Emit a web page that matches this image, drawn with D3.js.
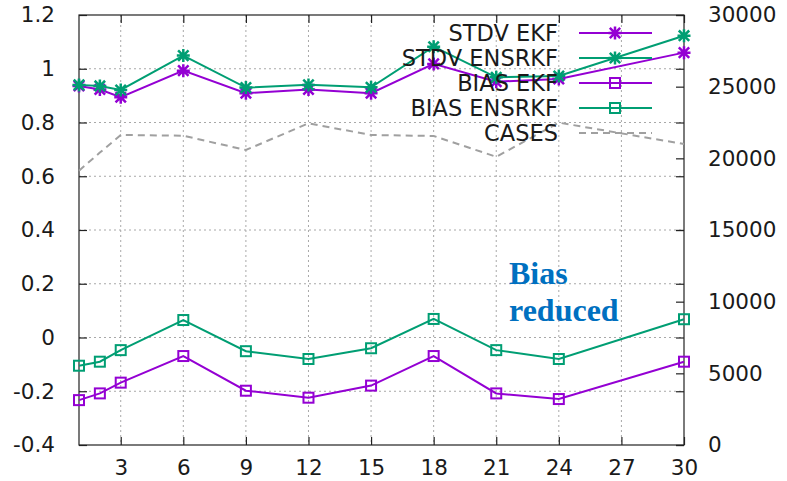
<!DOCTYPE html>
<html>
<head>
<meta charset="utf-8">
<script src="https://cdn.jsdelivr.net/npm/d3@7"></script>
<style>
  html, body { margin: 0; padding: 0; background: #fff; }
  svg { display: block; }
  text { font-family: "DejaVu Sans", sans-serif; fill: #1a1a1a; }
  text.note { font-family: "Liberation Serif", "Times New Roman", serif; font-weight: bold; fill: #0070c0; }
</style>
</head>
<body>
<svg id="chart" width="787" height="481"></svg>
<script>
// Forecast day
const days = [1, 2, 3, 6, 9, 12, 15, 18, 21, 24, 30];

// Error statistics (left axis)
const stdvEKF    = [0.936, 0.923, 0.894, 0.993, 0.909, 0.923, 0.909, 1.018, 0.952, 0.962, 1.060];
const stdvEnSRKF = [0.940, 0.936, 0.921, 1.049, 0.930, 0.940, 0.931, 1.082, 0.968, 0.973, 1.123];
const biasEKF    = [-0.233, -0.208, -0.168, -0.069, -0.198, -0.224, -0.179, -0.069, -0.208, -0.229, -0.090];
const biasEnSRKF = [-0.105, -0.090, -0.047, 0.065, -0.051, -0.080, -0.040, 0.069, -0.047, -0.080, 0.068];

// Number of cases (right axis)
const cases = [19140, 20400, 21630, 21580, 20580, 22440, 21630, 21560, 20110, 22490, 21000];

// Tick labels
const xTicks  = [3, 6, 9, 12, 15, 18, 21, 24, 27, 30];
const yTicks  = [-0.4, -0.2, 0, 0.2, 0.4, 0.6, 0.8, 1, 1.2];
const y2Ticks = [0, 5000, 10000, 15000, 20000, 25000, 30000];

const series = [
  { name: "STDV EKF",    values: stdvEKF,    color: "#9400d3", marker: "star" },
  { name: "STDV ENSRKF", values: stdvEnSRKF, color: "#009e73", marker: "star" },
  { name: "BIAS EKF",    values: biasEKF,    color: "#9400d3", marker: "square" },
  { name: "BIAS ENSRKF", values: biasEnSRKF, color: "#009e73", marker: "square" }
];

const svg = d3.select("#chart");
const L = 79, R = 684, T = 15, B = 445;

const x  = d3.scaleLinear().domain([1, 30]).range([L, R]);
const y  = d3.scaleLinear().domain([-0.4, 1.2]).range([B, T]);
const y2 = d3.scaleLinear().domain([0, 30000]).range([B, T]);

const gridColor = "#a8a8a8";
// plain hyphen-minus labels: "-0.2", "0", "1.2"
const fmtY = v => (Math.abs(v) < 1e-9 ? "0" : String(+v.toFixed(1)));

// Grid
const grid = svg.append("g").attr("stroke", gridColor).attr("stroke-width", 1).attr("stroke-dasharray", "2,3");
xTicks.filter(t => t < 30).forEach(t => {
  grid.append("line").attr("x1", x(t)).attr("x2", x(t)).attr("y1", T).attr("y2", B);
});
yTicks.filter(t => t > -0.4 && t < 1.2).forEach(t => {
  grid.append("line").attr("x1", L).attr("x2", R).attr("y1", y(t)).attr("y2", y(t));
});

// Axes with inward ticks (left, right, bottom, top mirrored)
const axisStyle = g => {
  g.select(".domain").remove();
  g.selectAll(".tick line").attr("stroke", "#222").attr("stroke-width", 1.2);
  g.selectAll(".tick text").attr("font-size", 21.5);
};

svg.append("g").attr("transform", `translate(${L},0)`)
  .call(d3.axisLeft(y).tickValues(yTicks).tickFormat(fmtY).tickSizeInner(-8).tickPadding(24))
  .call(axisStyle);

svg.append("g").attr("transform", `translate(${R},0)`)
  .call(d3.axisRight(y2).tickValues(y2Ticks).tickFormat(d3.format("d")).tickSizeInner(-8).tickPadding(24))
  .call(axisStyle);

svg.append("g").attr("transform", `translate(${R},0)`)
  .call(d3.axisRight(y).tickValues(yTicks).tickFormat("").tickSizeInner(-8))
  .call(axisStyle);

svg.append("g").attr("transform", `translate(0,${B})`)
  .call(d3.axisBottom(x).tickValues(xTicks).tickFormat(d3.format("d")).tickSizeInner(-8).tickPadding(15))
  .call(axisStyle);

svg.append("g").attr("transform", `translate(0,${T})`)
  .call(d3.axisTop(x).tickValues(xTicks).tickFormat("").tickSizeInner(-8))
  .call(axisStyle);

// Plot border
svg.append("rect").attr("x", L).attr("y", T).attr("width", R - L).attr("height", B - T)
  .attr("fill", "none").attr("stroke", "#222").attr("stroke-width", 1.2);

// Cases line
const casesLine = d3.line().x((d, i) => x(days[i])).y(d => y2(d));
svg.append("path").datum(cases).attr("d", casesLine)
  .attr("fill", "none").attr("stroke", "#a0a0a0").attr("stroke-width", 2).attr("stroke-dasharray", "7,5");

// Markers
const star = d3.path();
const s = 6.5;
star.moveTo(-s, 0); star.lineTo(s, 0);
star.moveTo(0, -s); star.lineTo(0, s);
star.moveTo(-s * 0.8, -s * 0.8); star.lineTo(s * 0.8, s * 0.8);
star.moveTo(-s * 0.8, s * 0.8); star.lineTo(s * 0.8, -s * 0.8);
const starPath = star.toString();

function drawMarker(g, kind, cx, cy, color) {
  if (kind === "star") {
    g.append("path").attr("d", starPath).attr("transform", `translate(${cx},${cy})`)
      .attr("stroke", color).attr("stroke-width", 2.5).attr("fill", "none");
  } else {
    g.append("rect").attr("x", cx - 5).attr("y", cy - 5).attr("width", 10).attr("height", 10)
      .attr("stroke", color).attr("stroke-width", 2).attr("fill", "none");
  }
}

const line = d3.line().x((d, i) => x(days[i])).y(d => y(d));
series.forEach(sr => {
  const g = svg.append("g");
  g.append("path").datum(sr.values).attr("d", line)
    .attr("fill", "none").attr("stroke", sr.color).attr("stroke-width", 2);
  sr.values.forEach((v, i) => drawMarker(g, sr.marker, x(days[i]), y(v), sr.color));
});

// Legend
const legend = svg.append("g");
const legendRows = series.map(d => d).concat([{ name: "CASES", color: "#a0a0a0", marker: null }]);
legendRows.forEach((sr, i) => {
  const cy = 33 + i * 25;
  legend.append("text").attr("x", 558).attr("y", cy).attr("dy", "0.36em")
    .attr("text-anchor", "end").attr("font-size", 22.5).text(sr.name);
  const ln = legend.append("line").attr("x1", 579).attr("x2", 652).attr("y1", cy).attr("y2", cy)
    .attr("stroke", sr.color).attr("stroke-width", 2);
  if (sr.marker) drawMarker(legend, sr.marker, 615, cy, sr.color);
  else ln.attr("stroke-dasharray", "7,5");
});

// Annotation
const note = svg.append("text").attr("class", "note").attr("x", 509).attr("font-size", 32);
note.append("tspan").attr("x", 509).attr("y", 284).text("Bias");
note.append("tspan").attr("x", 509).attr("y", 321).text("reduced");
</script>
</body>
</html>
